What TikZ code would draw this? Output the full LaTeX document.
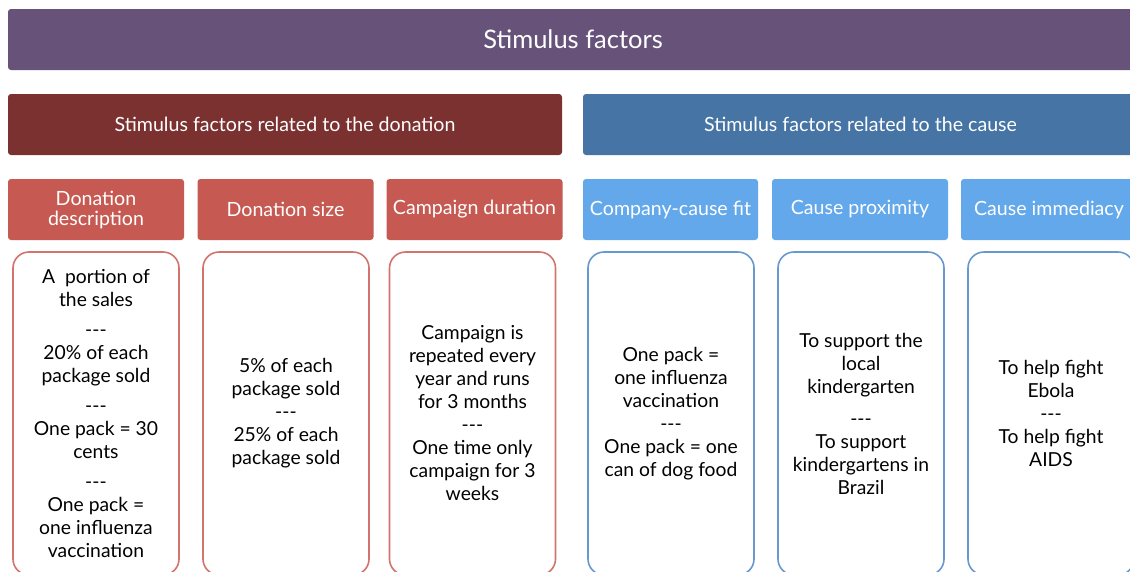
\documentclass[tikz,border=0pt]{standalone}
\usepackage{fontspec}
\setmainfont{Lato}
\definecolor{topc}{HTML}{67537A}
\definecolor{donc}{HTML}{7A3130}
\definecolor{causec}{HTML}{4674A5}
\definecolor{redh}{HTML}{C65A52}
\definecolor{blueh}{HTML}{62A8EA}
\definecolor{redb}{HTML}{D2746D}
\definecolor{blueb}{HTML}{6699CF}
\newcommand{\dsh}{-{}-{}-}
\tikzset{
  bar/.style={rectangle, rounded corners=3pt, inner sep=0pt, text=white, minimum height=61pt},
  hdr/.style={bar, font=\fontsize{19.6}{21}\selectfont, align=center},
  cbox/.style={rectangle, rounded corners=16pt, line width=1.6pt, fill=white, minimum width=166pt, minimum height=323pt, inner sep=0pt},
  ctext/.style={align=center, font=\fontsize{19.3}{23}\selectfont, inner sep=0pt}
}
\begin{document}
\begin{tikzpicture}[x=1pt,y=-1pt]
\clip (0,0) rectangle (1130,571);
\fill[white] (0,0) rectangle (1130,571);
% top bar
\node[bar, fill=topc, minimum width=1130pt, font=\fontsize{25.5}{27}\selectfont] (title) at (573,39.5) {Stimulus factors};
\node[bar, fill=donc, minimum width=554pt, font=\fontsize{19.6}{21}\selectfont] (don) at (285,124.5) {Stimulus factors related to the donation};
\node[bar, fill=causec, minimum width=555pt, font=\fontsize{19.6}{21}\selectfont] (cause) at (860.5,124.5) {Stimulus factors related to the cause};
% headers
\node[hdr, fill=redh, minimum width=176pt] (h1) at (96,209.5) {Donation\\[-1pt]description};
\node[hdr, fill=redh, minimum width=176pt] (h2) at (285.5,209.5) {Donation size};
\node[hdr, fill=redh, minimum width=176pt] (h3) at (474.5,209.5) {Campaign duration};
\node[hdr, fill=blueh, minimum width=175pt] (h4) at (670.5,209.5) {Company-cause fit};
\node[hdr, fill=blueh, minimum width=176pt] (h5) at (860,209.5) {Cause proximity};
\node[hdr, fill=blueh, minimum width=176pt] (h6) at (1049,209.5) {Cause immediacy};
% content boxes
\node[cbox, draw=redb] (b1) at (96,413.5) {};
\node[cbox, draw=redb] (b2) at (286,413.5) {};
\node[cbox, draw=redb] (b3) at (472.5,413.5) {};
\node[cbox, draw=blueb] (b4) at (671,413.5) {};
\node[cbox, draw=blueb] (b5) at (861,413.5) {};
\node[cbox, draw=blueb] (b6) at (1051,413.5) {};
% texts
\node[ctext] (t1) at (b1.center) {A\ \ portion of\\the sales\\[7pt]\dsh\\20\% of each\\package sold\\[7pt]\dsh\\One pack = 30\\cents\\[7pt]\dsh\\One pack =\\one influenza\\vaccination};
\node[ctext] (t2) at (b2.center) {5\% of each\\package sold\\\dsh\\25\% of each\\package sold};
\node[ctext] (t3) at (b3.center) {Campaign is\\repeated every\\year and runs\\for 3 months\\\dsh\\One time only\\campaign for 3\\weeks};
\node[ctext] (t4) at (b4.center) {One pack =\\one influenza\\vaccination\\\dsh\\One pack = one\\can of dog food};
\node[ctext] (t5) at (b5.center) {To support the\\local\\kindergarten\\[9pt]\dsh\\To support\\kindergartens in\\Brazil};
\node[ctext] (t6) at (b6.center) {To help fight\\Ebola\\\dsh\\To help fight\\AIDS};
\end{tikzpicture}
\end{document}
